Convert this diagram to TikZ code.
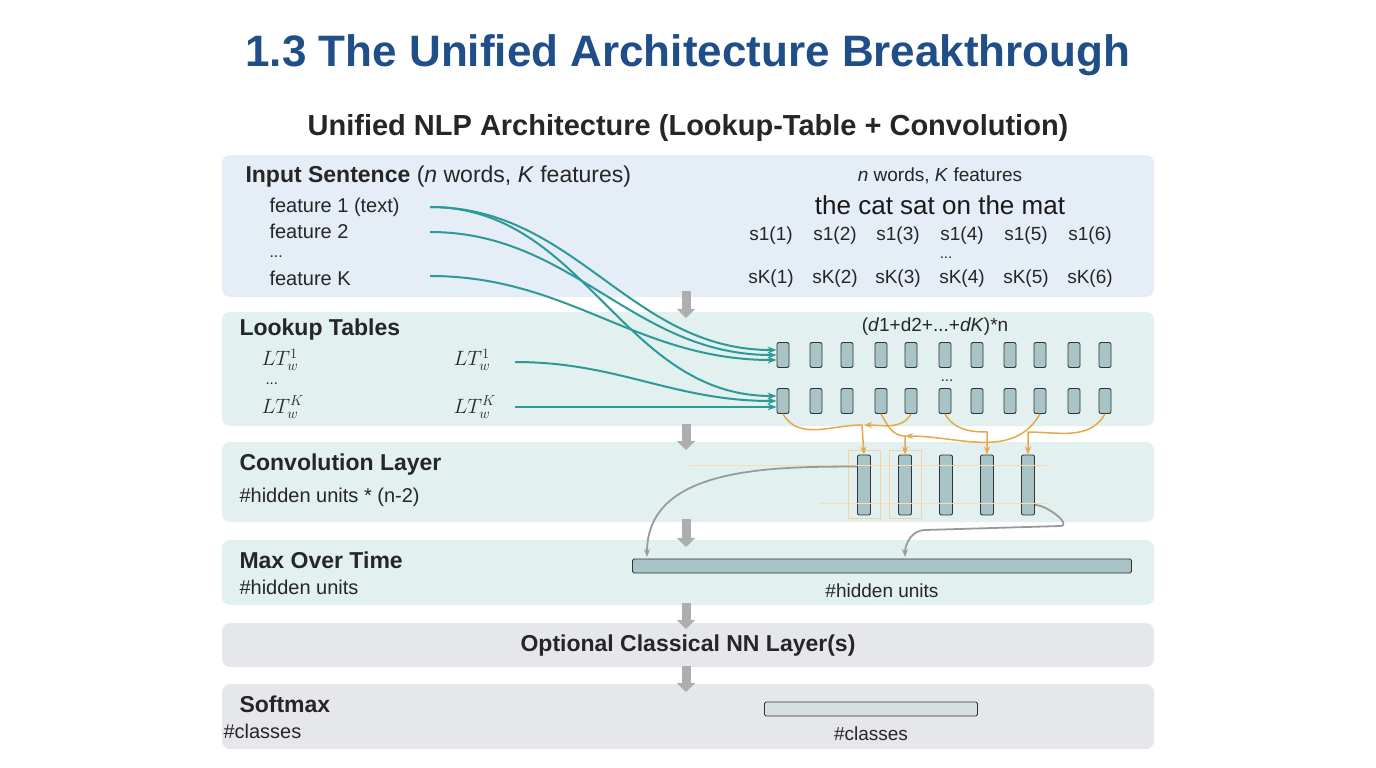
\documentclass[tikz,border=0pt]{standalone}
\usepackage{fontspec}
\setmainfont{Liberation Sans}
\usepackage{amsmath}
\usetikzlibrary{arrows.meta}
\definecolor{titleblue}{HTML}{1F4E89}
\definecolor{panelblue}{HTML}{E5EDF6}
\definecolor{panelteal}{HTML}{E2F0F0}
\definecolor{panelgray}{HTML}{E6E7EA}
\definecolor{vecfill}{HTML}{A9C4C6}
\definecolor{tealline}{HTML}{2E9A98}
\definecolor{orangeline}{HTML}{E5A94A}
\definecolor{arrgray}{HTML}{9A9A9A}
\begin{document}
\begin{tikzpicture}[x=1pt, y=-1pt,
    panel/.style={fill=#1, draw=none, rounded corners=8pt},
    head/.style={anchor=west, font=\fontsize{23}{26}\selectfont\bfseries, text=black!85},
    txt/.style={anchor=west, font=\fontsize{20}{23}\selectfont, text=black!85},
    ctxt/.style={font=\fontsize{19}{22}\selectfont, text=black!85},
    vec/.style={draw=black!80, line width=0.9pt, fill=vecfill, rounded corners=2pt, minimum width=12pt, minimum height=25pt, inner sep=0pt},
    cbar/.style={draw=black!80, line width=0.9pt, fill=vecfill, rounded corners=2pt, minimum width=13pt, minimum height=60pt, inner sep=0pt},
    flow/.style={-{Triangle[length=9pt,width=18pt]}, line width=9pt, draw=arrgray!80},
    tl/.style={-{Stealth[length=9pt]}, draw=tealline, line width=2pt},
    ol/.style={-{Stealth[length=8pt]}, draw=orangeline, line width=1.5pt},
    gl/.style={-{Stealth[length=8pt]}, draw=arrgray, line width=1.8pt}]

    \useasboundingbox (0,0) rectangle (1376,768);

    % Titles
    \node[font=\fontsize{44}{48}\selectfont\bfseries, text=titleblue] (title) at (688,55) {1.3 The Unified Architecture Breakthrough};
    \node[font=\fontsize{29}{32}\selectfont\bfseries, text=black!85] (subtitle) at (688,128) {Unified NLP Architecture (Lookup-Table + Convolution)};

    % Panels
    \fill[panel=panelblue] (222,155) rectangle (1154,297);
    \fill[panel=panelteal] (222,312) rectangle (1154,426);
    \fill[panel=panelteal] (222,442) rectangle (1154,522);
    \fill[panel=panelteal] (222,540) rectangle (1154,605);
    \fill[panel=panelgray] (222,623) rectangle (1154,667);
    \fill[panel=panelgray] (222,684) rectangle (1154,749);

    % Flow arrows between panels
    \foreach \ya/\yb in {291/318, 424/450, 519/547, 603/629, 666/692}
        \draw[flow] (686,\ya) -- (686,\yb);

    % Input sentence
    \node[head] (inhead) at (242,177) {Input Sentence \mdseries(\textit{n} words, \textit{K} features)};
    \node[txt] (f1) at (266,207) {feature 1 (text)};
    \node[txt] (f2) at (266,231) {feature 2};
    \node[txt, font=\fontsize{16}{18}\selectfont] (fd) at (266,257) {...};
    \node[txt] (fk) at (266,278) {feature K};
    \coordinate (f1e) at (430,207);
    \coordinate (f2e) at (430,232);
    \coordinate (fke) at (430,276);
    \node[ctxt] (nk) at (940,176) {\textit{n} words, \textit{K} features};
    \node[font=\fontsize{26}{30}\selectfont, text=black!90] (sent) at (940,205) {the cat sat on the mat};
    \foreach \i/\x in {1/771, 2/835, 3/898, 4/962, 5/1026, 6/1090} {
        \node[ctxt] (s1\i) at (\x,236) {s1(\i)};
        \node[ctxt] (sk\i) at (\x,279) {sK(\i)};
    }
    \node[ctxt, font=\fontsize{15}{17}\selectfont] (sd) at (946,258) {...};

    % Lookup tables
    \node[head] (lthead) at (236,330) {Lookup Tables};
    \node[txt] (lt1) at (258,360) {$LT_w^1$};
    \node[txt, font=\fontsize{15}{17}\selectfont] (ltd) at (262,384) {...};
    \node[txt] (ltk) at (258,407) {$LT_w^K$};
    \node[txt] (rt1) at (450,360) {$LT_w^1$};
    \node[txt] (rtk) at (450,407) {$LT_w^K$};
    \coordinate (rt1e) at (515,362);
    \coordinate (rtke) at (515,407);
    \node[ctxt] (dims) at (935,327) {(\textit{d}1+d2+...+\textit{dK})*n};
    \foreach \i/\x in {1/783, 2/816, 3/847, 4/881, 5/911, 6/945, 7/977, 8/1010, 9/1040, 10/1074, 11/1105} {
        \node[vec] (a\i) at (\x,355) {};
        \node[vec] (b\i) at (\x,401) {};
    }
    \node[ctxt, font=\fontsize{15}{17}\selectfont] (vd) at (947,381) {...};

    % Lookup connections
    \draw[tl] (f1e) to[out=0, in=180] ([yshift=5pt]a1.west);
    \draw[tl] (f2e) to[out=0, in=180] (a1.west);
    \draw[tl] (fke) to[out=0, in=180] ([yshift=-5pt]a1.west);
    \draw[tl] (f1e) to[out=0, in=180] ([yshift=5pt]b1.west);
    \draw[tl] (rt1e) to[out=0, in=180] (b1.west);
    \draw[tl] (rtke) -- ([yshift=-6pt]b1.west);

    % Convolution layer
    \node[head] (cvhead) at (236,465) {Convolution Layer};
    \node[txt] (cvtxt) at (236,497) {\#hidden units * (n-2)};
    \foreach \i/\x in {1/864, 2/905, 3/946, 4/987, 5/1028}
        \node[cbar] (c\i) at (\x,485) {};
    \draw[orangeline!50, line width=0.8pt] (848,450) rectangle (880,518);
    \draw[orangeline!50, line width=0.8pt] (889,450) rectangle (921,518);
    \draw[orangeline!40, line width=1pt] (690,465) -- (1050,465);
    \draw[orangeline!40, line width=1pt] (820,503) -- (1050,503);

    % Convolution connections
    \draw[ol] (b1.south) to[out=-60, in=180] (862,425) -- (c1.north);
    \draw[ol] (b5.south) to[out=-120, in=0] (864,425);
    \draw[ol] (b4.south) to[out=-60, in=180] (905,436) -- (c2.north);
    \draw[ol] (b9.south) to[out=-120, in=0] (905,436);
    \draw[ol] (b6.south) to[out=-60, in=180] (987,432) -- (c4.north);
    \draw[ol] (b11.south) to[out=-120, in=0] (1028,432) -- (c5.north);

    % Max over time
    \node[head] (mxhead) at (236,560) {Max Over Time};
    \node[txt] (mxtxt) at (236,587) {\#hidden units};
    \node[draw=black!80, line width=0.9pt, fill=vecfill, rounded corners=1.5pt, minimum width=499pt, minimum height=14pt, inner sep=0pt] (mbar) at (882,566) {};
    \node[ctxt] (mlab) at (882,591) {\#hidden units};
    \draw[gl] (c1.north west) ++(0,12) to[out=180, in=90] (647,557);
    \draw[gl] (c5.east) ++(0,20) to[out=0, in=0] (1060,526) -- (925,530) to[out=180, in=90] (905,557);

    % Optional layers
    \node[font=\fontsize{23}{26}\selectfont\bfseries, text=black!85] (opt) at (688,646) {Optional Classical NN Layer(s)};

    % Softmax
    \node[head] (smhead) at (236,704) {Softmax};
    \node[txt] (smtxt) at (220,731) {\#classes};
    \node[draw=black!80, line width=0.9pt, fill=vecfill!70!gray!40, rounded corners=1.5pt, minimum width=213pt, minimum height=14pt, inner sep=0pt] (sbar) at (871,709) {};
    \node[ctxt] (slab) at (871,734) {\#classes};

\end{tikzpicture}
\end{document}
